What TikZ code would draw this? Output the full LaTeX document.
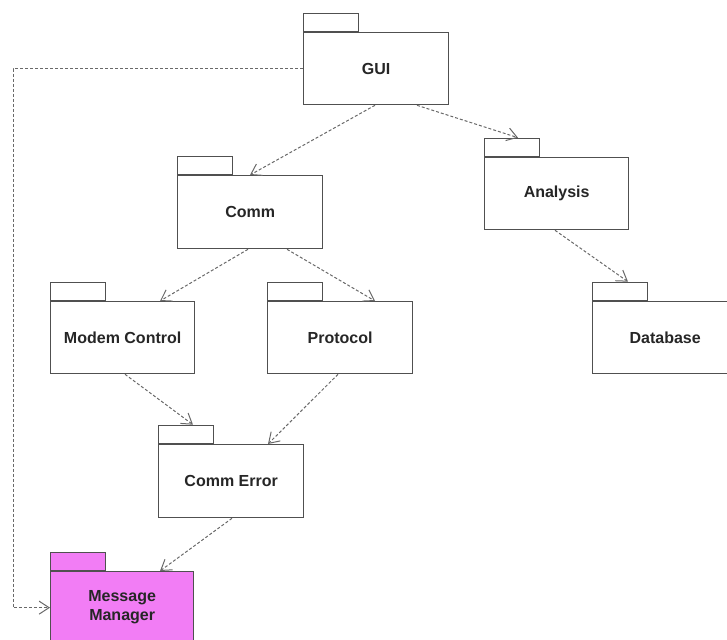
\documentclass[tikz,border=0pt]{standalone}
\usepackage{fontspec}
\setmainfont{Liberation Sans}
\usetikzlibrary{arrows.meta,calc,positioning}
\definecolor{edge}{RGB}{80,80,80}
\definecolor{dep}{RGB}{105,105,105}
\definecolor{magentafill}{RGB}{242,125,245}
\tikzset{
  x=1pt,y=-1pt,
  pkgbody/.style={draw=edge,line width=1.3pt,fill=white,minimum height=72pt,anchor=north west,inner sep=0pt,
     font=\fontsize{16}{19}\selectfont\bfseries,align=center,text=black!85},
  pkgtab/.style={draw=edge,line width=1.3pt,fill=white,minimum width=55pt,minimum height=18pt,anchor=south west,inner sep=0pt},
  depline/.style={draw=dep,line width=1pt,dash pattern=on 3pt off 2pt,-{Straight Barb[length=10pt,width=13pt]}}
}
\begin{document}
\begin{tikzpicture}
\useasboundingbox (0,0) rectangle (727,639);
\clip (0,0) rectangle (727,639);
% packages
\node[pkgbody,minimum width=145pt] (gui) at (303,32) {GUI};
\node[pkgtab] (guitab) at (gui.north west) {};
\node[pkgbody,minimum width=144pt] (ana) at (484,157) {Analysis};
\node[pkgtab] (anatab) at (ana.north west) {};
\node[pkgbody,minimum width=145pt,minimum height=73pt] (comm) at (177,175) {Comm};
\node[pkgtab] (commtab) at (comm.north west) {};
\node[pkgbody,minimum width=144pt] (modem) at (50,301) {Modem Control};
\node[pkgtab] (modemtab) at (modem.north west) {};
\node[pkgbody,minimum width=145pt] (proto) at (267,301) {Protocol};
\node[pkgtab] (prototab) at (proto.north west) {};
\node[pkgbody,minimum width=145pt] (db) at (592,301) {Database};
\node[pkgtab] (dbtab) at (db.north west) {};
\node[pkgbody,minimum width=145pt,minimum height=73pt] (cerr) at (158,444) {Comm Error};
\node[pkgtab] (cerrtab) at (cerr.north west) {};
\node[pkgbody,minimum width=143pt,fill=magentafill] (msg) at (50,571) {Message\\Manager};
\node[pkgtab,fill=magentafill] (msgtab) at (msg.north west) {};
% dependencies
\draw[depline] ($(gui.south west)+(72,0)$) -- ($(comm.north west)+(73,0)$);
\draw[depline] ($(gui.south west)+(114,0)$) -- ($(anatab.north west)+(34,0)$);
\draw[depline] ($(comm.south west)+(71,0)$) -- ($(modem.north west)+(110,0)$);
\draw[depline] ($(comm.south west)+(110,0)$) -- ($(proto.north west)+(108,0)$);
\draw[depline] ($(ana.south west)+(71,0)$) -- ($(dbtab.north west)+(36,0)$);
\draw[depline] ($(modem.south west)+(75,0)$) -- ($(cerrtab.north west)+(35,0)$);
\draw[depline] ($(proto.south west)+(71,0)$) -- ($(cerr.north west)+(110,0)$);
\draw[depline] ($(cerr.south west)+(74,0)$) -- ($(msg.north west)+(110,0)$);
\draw[depline] (gui.west) -- ++(-290,0) coordinate (corner) |- (msg.west);
\end{tikzpicture}
\end{document}
